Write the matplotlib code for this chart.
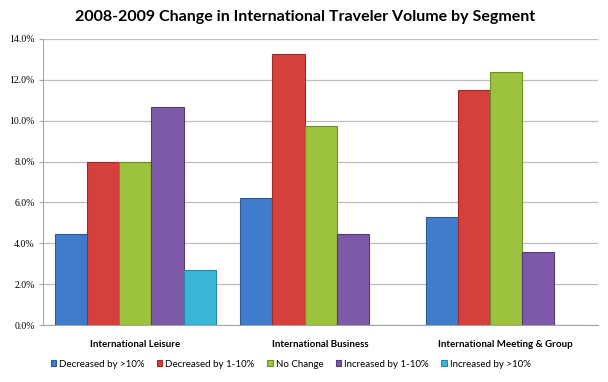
import matplotlib
matplotlib.use("Agg")
import matplotlib.pyplot as plt
import numpy as np
from matplotlib.ticker import FuncFormatter

# data (percent)
segments = ["International Leisure", "International Business", "International Meeting & Group"]
series = ["Decreased by >10%", "Decreased by 1-10%", "No Change", "Increased by 1-10%", "Increased by >10%"]
dec_big = [4.45, 6.2, 5.3]
dec_small = [8.0, 13.25, 11.5]
no_change = [8.0, 9.75, 12.4]
inc_small = [10.65, 4.45, 3.55]
inc_big = [2.7, 0.0, 0.0]
values = [dec_big, dec_small, no_change, inc_small, inc_big]

colors = ["#3f7dcc", "#d6403c", "#9cc23e", "#7d5aa8", "#3ab6d8"]
edges = ["#2b5a96", "#9e2a27", "#6f8f2a", "#56397a", "#2487a3"]

fig = plt.figure(figsize=(6.08, 3.82), dpi=100)
ax = fig.add_axes([0.0707, 0.1492, 0.9129, 0.7488])

x = np.arange(len(segments))
w = 0.173
for i, (vals, name) in enumerate(zip(values, series)):
    ax.bar(x + (i - 2) * w, vals, width=w, color=colors[i], edgecolor=edges[i],
           linewidth=0.8, label=name, zorder=3)

ax.set_xlim(-0.5, 2.5)
ax.set_ylim(0, 14)
ax.set_yticks(np.arange(0, 14.1, 2))
ax.yaxis.set_major_formatter(FuncFormatter(lambda v, p: f"{v:.1f}%"))
ax.grid(axis="y", color="#bfbfbf", lw=0.9, zorder=0)
for s in ["top", "right"]:
    ax.spines[s].set_visible(False)
for s in ["left", "bottom"]:
    ax.spines[s].set_color("#a6a6a6")
ax.tick_params(axis="y", length=3, color="#a6a6a6", labelsize=7, pad=3)
for lbl in ax.get_yticklabels():
    lbl.set_family("Liberation Serif")
ax.set_xticks(x)
ax.set_xticklabels(segments, fontsize=7, fontweight="bold", family="Lato")
ax.tick_params(axis="x", length=0, pad=11)

fig.text(0.502, 0.955, "2008-2009 Change in International Traveler Volume by Segment",
         ha="center", va="center", fontsize=11.5, fontweight="bold", family="Lato")

fig.legend(loc="center", bbox_to_anchor=(0.478, 0.047), ncol=5, frameon=False,
           prop={"family": "Lato", "size": 7}, handlelength=0.55, handleheight=0.55,
           handletextpad=0.3, columnspacing=1.3)

fig.savefig("out.png", dpi=100)
